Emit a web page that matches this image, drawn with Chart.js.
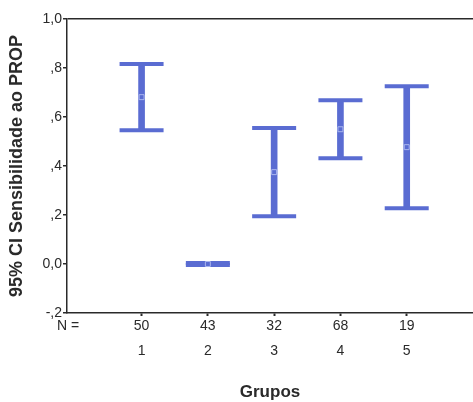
<!DOCTYPE html>
<html>
<head>
<meta charset="utf-8">
<script src="https://cdn.jsdelivr.net/npm/chart.js@4/dist/chart.umd.min.js"></script>
<style>
  html, body { margin: 0; padding: 0; background: #fff; }
  #wrap { width: 473px; height: 402px; overflow: hidden; }
</style>
</head>
<body>
<div id="wrap"><canvas id="chart" width="473" height="402"></canvas></div>
<script>
// Groups, sample sizes and 95% confidence intervals of "Sensibilidade ao PROP"
const groups = ['1', '2', '3', '4', '5'];
const counts = [50, 43, 32, 68, 19];
const ciLower = [0.546, -0.004, 0.195, 0.432, 0.228];
const ciUpper = [0.816, 0.004, 0.555, 0.668, 0.726];
const means = [0.681, 0.000, 0.375, 0.550, 0.477];
const yTickValues = [-0.2, 0.0, 0.2, 0.4, 0.6, 0.8, 1.0];
const yTickLabels = ['-,2', '0,0', ',2', ',4', ',6', ',8', '1,0'];
const nLabel = 'N =';

const nLabelPos = -0.11;           // x position of the "N =" caption
const groupPos = groups.map((g, i) => i + 1);

const BLUE = '#5a6cd2';
const AXIS = '#2a2a2a';
const FONT = "'Liberation Sans', Arial, sans-serif";

new Chart(document.getElementById('chart'), {
  type: 'bar',
  data: {
    datasets: [
      {
        type: 'line',
        label: 'mean',
        data: groupPos.map((x, i) => ({ x, y: means[i] })),
        showLine: false,
        pointStyle: 'rect',
        pointRadius: 3.5,
        pointBorderWidth: 1,
        pointBorderColor: '#aab6ee',
        pointBackgroundColor: 'rgba(0,0,0,0)',
        order: 0
      },
      {
        type: 'line',
        label: 'upper',
        data: groupPos.map((x, i) => ({ x, y: ciUpper[i] })),
        showLine: false,
        pointStyle: 'line',
        pointRadius: 22,
        pointBorderWidth: 4,
        pointBorderColor: BLUE,
        order: 1
      },
      {
        type: 'line',
        label: 'lower',
        data: groupPos.map((x, i) => ({ x, y: ciLower[i] })),
        showLine: false,
        pointStyle: 'line',
        pointRadius: 22,
        pointBorderWidth: 4,
        pointBorderColor: BLUE,
        order: 1
      },
      {
        type: 'bar',
        label: 'ci',
        data: groupPos.map((x, i) => ({ x, y: [ciLower[i], ciUpper[i]] })),
        backgroundColor: BLUE,
        borderWidth: 0,
        barThickness: 6,
        grouped: false,
        order: 2
      }
    ]
  },
  options: {
    responsive: false,
    animation: false,
    events: [],
    layout: { autoPadding: false, padding: { top: 19, left: 0, right: 0, bottom: 0 } },
    plugins: { legend: { display: false }, tooltip: { enabled: false } },
    scales: {
      x: {
        type: 'linear',
        min: -0.125,
        max: 6.0,
        offset: false,
        afterFit: s => { s.height = 89; s.paddingLeft = 0; s.paddingRight = 0; },
        afterBuildTicks: s => {
          s.ticks = [nLabelPos].concat(groupPos).map(v => ({ value: v }));
        },
        ticks: {
          autoSkip: false,
          maxRotation: 0,
          minRotation: 0,
          padding: -2.5,
          color: '#2a2a2a',
          font: { family: FONT, size: 14, lineHeight: '25px' },
          callback: (v, i) => i === 0 ? [nLabel, ''] : [String(counts[i - 1]), groups[i - 1]]
        },
        grid: {
          offset: false,
          drawOnChartArea: false,
          drawTicks: true,
          tickLength: 3,
          tickWidth: 2,
          tickColor: c => c.index === 0 ? 'rgba(0,0,0,0)' : AXIS
        },
        border: { display: true, color: AXIS, width: 1.5 },
        title: {
          display: true,
          text: 'Grupos',
          color: '#2a2a2a',
          font: { family: FONT, size: 17, weight: 'bold', lineHeight: 1 },
          padding: { top: 0, bottom: 1.5 }
        }
      },
      y: {
        type: 'linear',
        min: -0.2,
        max: 1.0,
        afterFit: s => { s.width = 67; s.paddingTop = 0; s.paddingBottom = 0; },
        afterBuildTicks: s => {
          s.ticks = yTickValues.map(v => ({ value: v }));
        },
        ticks: {
          padding: 1,
          color: '#2a2a2a',
          font: { family: FONT, size: 14 },
          callback: (v, i) => yTickLabels[i]
        },
        grid: {
          drawTicks: true,
          tickLength: 4,
          tickWidth: 1.5,
          tickColor: AXIS,
          lineWidth: 1.5,
          color: c => (c.tick && Math.abs(c.tick.value - 1) < 1e-9) ? AXIS : 'rgba(0,0,0,0)'
        },
        border: { display: true, color: AXIS, width: 1.5 },
        title: {
          display: true,
          text: '95% CI Sensibilidade ao PROP',
          color: '#2a2a2a',
          font: { family: FONT, size: 18, weight: 'bold', lineHeight: 1.2 },
          padding: { top: 6, bottom: 0 }
        }
      }
    }
  }
});
</script>
</body>
</html>
